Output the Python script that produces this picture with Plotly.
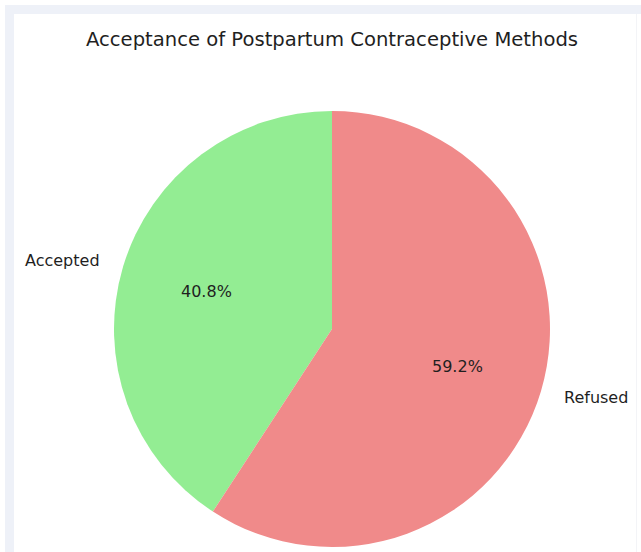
import math
import plotly.graph_objects as go

# Data
labels = ["Accepted", "Refused"]
shares = [40.8, 59.2]
colors = ["#93ED93", "#F08A8A"]
title_text = "Acceptance of Postpartum Contraceptive Methods"

# Canvas and pie geometry (pixels)
W, H = 641, 552
cx, cy, r = 332, 329, 218
FONT = "DejaVu Sans"
INK = "#1f1f1f"


def px(x):
    return x / W


def py(y):
    return 1 - y / H


total = sum(shares)
# First slice starts at 12 o'clock and runs counterclockwise
first_sweep = 360.0 * shares[0] / total

fig = go.Figure(
    go.Pie(
        labels=labels,
        values=shares,
        marker=dict(colors=colors, line=dict(width=0)),
        sort=False,
        direction="clockwise",
        rotation=-first_sweep,
        textinfo="none",
        hoverinfo="label+percent",
        showlegend=False,
        domain=dict(x=[px(cx - r), px(cx + r)], y=[py(cy + r), py(cy - r)]),
    )
)

# Percentage labels inside each slice and category labels outside
annotations = []
start = 90.0
for lab, v in zip(labels, shares):
    sweep = 360.0 * v / total
    mid = math.radians(start + sweep / 2)
    start += sweep
    ix = cx + 0.6 * r * math.cos(mid)
    iy = cy - 0.6 * r * math.sin(mid)
    annotations.append(dict(
        x=px(ix), y=py(iy), xref="paper", yref="paper",
        text=f"{v / total * 100:.1f}%", showarrow=False,
        xanchor="center", yanchor="middle",
        font=dict(family=FONT, size=16, color=INK),
    ))
    ox = cx + 1.1 * r * math.cos(mid)
    oy = cy - 1.1 * r * math.sin(mid)
    annotations.append(dict(
        x=px(ox), y=py(oy), xref="paper", yref="paper",
        text=lab, showarrow=False,
        xanchor="right" if math.cos(mid) < 0 else "left", yanchor="middle",
        font=dict(family=FONT, size=16, color=INK),
    ))

annotations.append(dict(
    x=px(cx), y=py(40), xref="paper", yref="paper",
    text=title_text, showarrow=False,
    xanchor="center", yanchor="middle",
    font=dict(family=FONT, size=19.6, color=INK),
))

# Light frame around the figure area
frame = "#eef1f8"
shapes = [
    dict(type="rect", xref="paper", yref="paper", x0=px(5), x1=px(14), y0=0, y1=py(5),
         fillcolor=frame, line=dict(width=0), layer="below"),
    dict(type="rect", xref="paper", yref="paper", x0=px(5), x1=1, y0=py(14), y1=py(5),
         fillcolor=frame, line=dict(width=0), layer="below"),
    dict(type="line", xref="paper", yref="paper", x0=px(636.5), x1=px(636.5), y0=0, y1=py(14),
         line=dict(color="#f3f4f7", width=1), layer="below"),
]

fig.update_layout(
    width=W, height=H,
    margin=dict(l=0, r=0, t=0, b=0),
    paper_bgcolor="white",
    plot_bgcolor="white",
    annotations=annotations,
    shapes=shapes,
)

fig.write_html("out.html")
